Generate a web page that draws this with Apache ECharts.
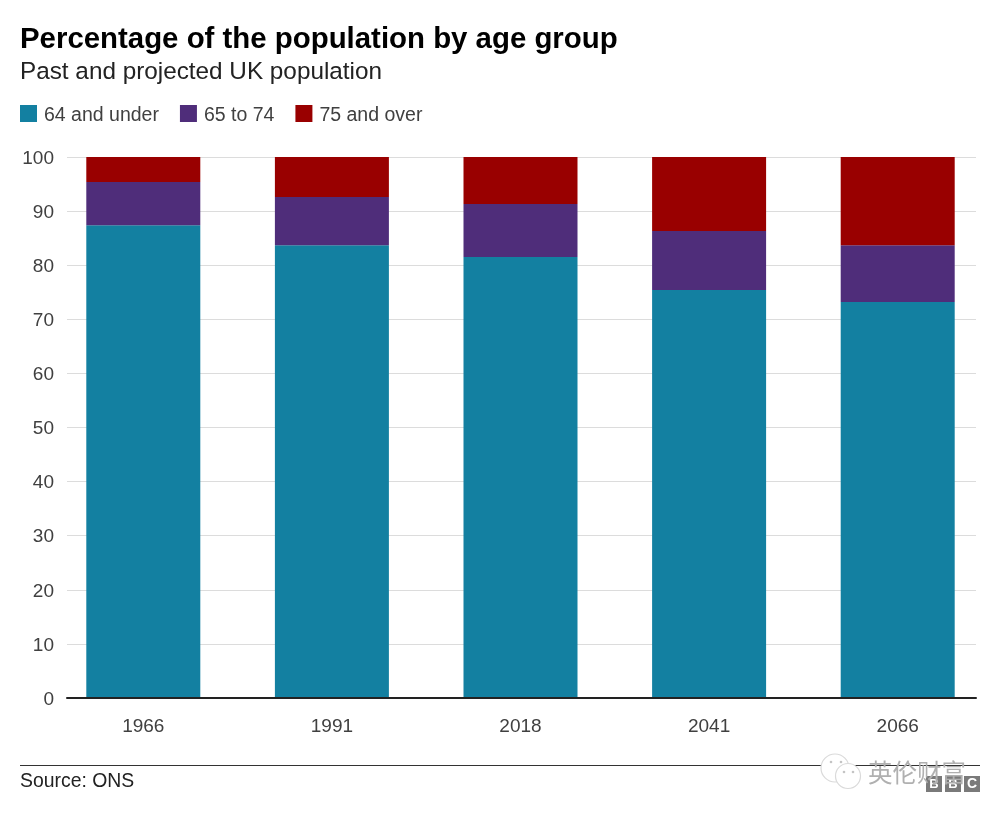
<!DOCTYPE html>
<html><head><meta charset="utf-8">
<style>html,body{margin:0;padding:0;background:#fff}#c{width:1000px;height:818px}</style>
<script src="https://cdn.jsdelivr.net/npm/echarts@6/dist/echarts.min.js"></script></head>
<body><div id="c"></div>
<script>
const years = ['1966','1991','2018','2041','2066'];
const under65 = [87.4,83.7,81.5,75.4,73.2];
const mid = [8.0,8.9,9.8,10.9,10.5];
const over75 = [4.6,7.4,8.7,13.7,16.3];
const FONT = '"Liberation Sans", Arial, sans-serif';
const chart = echarts.init(document.getElementById('c'), null, {renderer:'canvas'});
const bar = (name, data, color) => ({name, type:'bar', stack:'a', xAxisIndex:1, yAxisIndex:1, data, barWidth:114, itemStyle:{color}, z:3});
const t = (x,y,text,font,fill,extra) => ({type:'text', x, y, z:20, style:Object.assign({text, font, fill, textVerticalAlign:'middle'}, extra||{})});
const box = (x) => ({type:'rect', z:18, shape:{x, y:776, width:16, height:16}, style:{fill:'#7a7a7a'}});
const bubble = (cx,cy,r,z) => ({type:'circle', z, shape:{cx,cy,r}, style:{fill:'#fff', stroke:'#dadada', lineWidth:1.2}});
const dot = (cx,cy,z) => ({type:'circle', z, shape:{cx,cy,r:1.3}, style:{fill:'#c4c4c4'}});
chart.setOption({
  animation:false,
  backgroundColor:'#fff',
  textStyle:{fontFamily:FONT},
  legend:{left:15, top:100, itemWidth:17, itemHeight:17, itemGap:21, icon:'rect',
    selectedMode:false, formatter:'{a|{name}}',
    textStyle:{fontSize:19.5, color:'#404040', fontFamily:FONT,
      rich:{a:{fontSize:19.5, color:'#404040', fontFamily:FONT, padding:[4,0,0,2]}}},
    data:['64 and under','65 to 74','75 and over']},
  grid:[
    {left:67, top:157, width:909, height:541},
    {left:49, top:157, width:943, height:541}
  ],
  xAxis:[
    {gridIndex:0, type:'category', data:years, axisTick:{show:false}, axisLabel:{show:false},
     axisLine:{lineStyle:{color:'#222', width:2}}, z:10},
    {gridIndex:1, type:'category', data:years, axisTick:{show:false}, axisLine:{show:false},
     axisLabel:{fontSize:19, color:'#404040', margin:19, fontFamily:FONT}}
  ],
  yAxis:[
    {gridIndex:0, type:'value', min:0, max:100, interval:10, axisLine:{show:false}, axisTick:{show:false},
     axisLabel:{fontSize:19, color:'#404040', margin:13, fontFamily:FONT, formatter:'{a|{value}}',
       rich:{a:{fontSize:19, color:'#404040', fontFamily:FONT, padding:[3,0,0,0]}}},
     splitLine:{lineStyle:{color:'#dcdcdc', width:1}}},
    {gridIndex:1, type:'value', min:0, max:100, interval:10, show:false, splitLine:{show:false}}
  ],
  series:[
    bar('64 and under', under65, '#1380A1'),
    bar('65 to 74', mid, '#4F2D7A'),
    bar('75 and over', over75, '#990000')
  ],
  graphic:[
    t(20,39.5,'Percentage of the population by age group','bold 29.4px '+FONT,'#000'),
    t(20,72,'Past and projected UK population','24.3px '+FONT,'#222'),
    {type:'line', z:10, shape:{x1:20,y1:765.5,x2:980,y2:765.5}, style:{stroke:'#333', lineWidth:1}},
    t(20,782,'Source: ONS','19.4px '+FONT,'#222'),
    box(926), box(945), box(964),
    t(934,784,'B','bold 13px '+FONT,'#fff',{textAlign:'center'}),
    t(953,784,'B','bold 13px '+FONT,'#fff',{textAlign:'center'}),
    t(972,784,'C','bold 14px '+FONT,'#fff',{textAlign:'center'}),
    bubble(835,768,14,21), dot(831,762,21), dot(841,762,21),
    bubble(848,776,12.5,22), dot(844,772,22), dot(853,772,22),
    t(868,773,'英伦财富','24.5px "Noto Sans CJK SC"','#b0b0b0')
  ]
});
</script></body></html>
